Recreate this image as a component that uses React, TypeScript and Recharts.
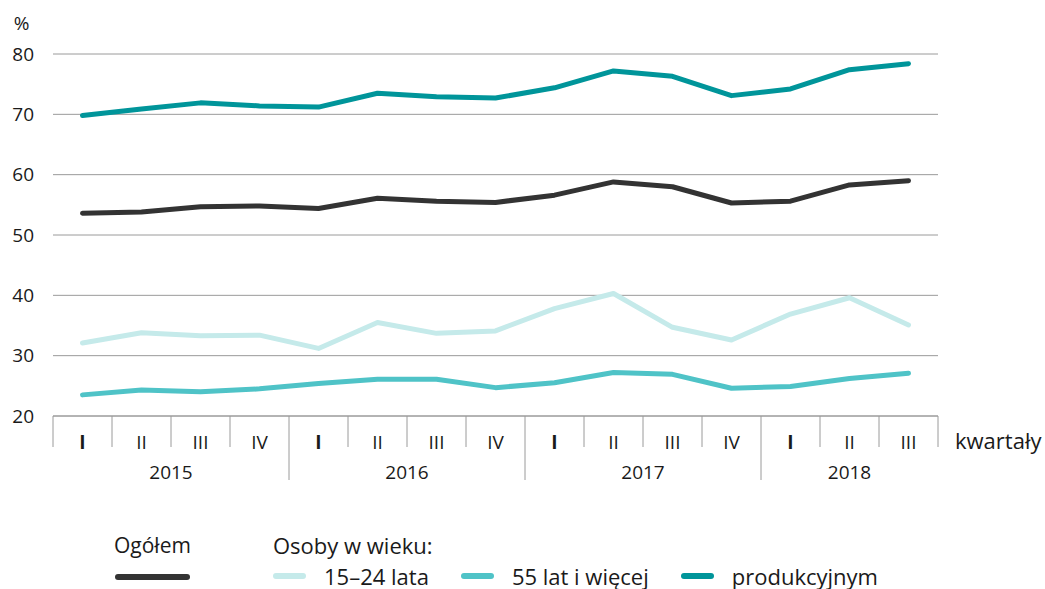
import { LineChart, Line, XAxis, YAxis, CartesianGrid, Legend } from "recharts";

const quarters = ["I", "II", "III", "IV", "I", "II", "III", "IV", "I", "II", "III", "IV", "I", "II", "III"];
const years = ["2015", "2015", "2015", "2015", "2016", "2016", "2016", "2016", "2017", "2017", "2017", "2017", "2018", "2018", "2018"];

const ogolem = [53.6, 53.8, 54.7, 54.8, 54.4, 56.1, 55.6, 55.4, 56.6, 58.8, 58.0, 55.3, 55.6, 58.3, 59.0];
const wiek1524 = [32.1, 33.8, 33.3, 33.4, 31.2, 35.5, 33.7, 34.1, 37.8, 40.3, 34.7, 32.6, 36.9, 39.6, 35.1];
const wiek55plus = [23.5, 24.3, 24.0, 24.5, 25.4, 26.1, 26.1, 24.7, 25.5, 27.2, 26.9, 24.6, 24.9, 26.2, 27.1];
const produkcyjny = [69.8, 70.9, 71.9, 71.4, 71.2, 73.5, 72.9, 72.7, 74.4, 77.2, 76.3, 73.1, 74.2, 77.4, 78.4];

const yTicks = [20, 30, 40, 50, 60, 70, 80];

const data = quarters.map((q, i) => ({
  q,
  year: years[i],
  ogolem: ogolem[i],
  mlodzi: wiek1524[i],
  starsi: wiek55plus[i],
  prod: produkcyjny[i],
}));

const FONT = "'Open Sans', sans-serif";
const TEXT = "#1a1a1a";
const RULE = "#9a9a9a";
// half a quarter's slot; also used as the axis padding so points sit mid-slot
const HALF = 29.5;

function QuarterTick(props: any) {
  const { x, y, payload, index } = props;
  const left = x - HALF;
  const isYearStart = index === 0 || years[index] !== years[index - 1];
  const isLast = index === quarters.length - 1;
  let yearLabel = null;
  if (isYearStart) {
    const n = years.filter((v) => v === years[index]).length;
    yearLabel = (
      <text x={left + n * HALF} y={y + 63} textAnchor="middle" fontSize={19} fill={TEXT} fontFamily={FONT}>
        {years[index]}
      </text>
    );
  }
  return (
    <g>
      <line x1={left} x2={left} y1={y} y2={y + (isYearStart && index > 0 ? 64 : 31)} stroke={RULE} />
      {isLast && <line x1={x + HALF} x2={x + HALF} y1={y} y2={y + 31} stroke={RULE} />}
      <text
        x={x}
        y={y + 33}
        textAnchor="middle"
        fontSize={19}
        fill={TEXT}
        fontFamily={FONT}
        fontWeight={payload.value === "I" ? 700 : 400}
      >
        {payload.value}
      </text>
      {isLast && (
        <text x={x + HALF + 17} y={y + 33} fontSize={22} fill={TEXT} fontFamily={FONT}>
          kwartały
        </text>
      )}
      {yearLabel}
    </g>
  );
}

function renderLegend(props: any) {
  const items = props.payload || [];
  const total = items.find((p: any) => p.dataKey === "ogolem");
  const ages = items.filter((p: any) => p.dataKey !== "ogolem");
  return (
    <div style={{ position: "relative", height: 0, fontFamily: FONT, fontSize: 22, color: TEXT }}>
      <div style={{ position: "absolute", left: 114, top: 532, lineHeight: "26px", fontSize: 21 }}>{total?.value}</div>
      <div style={{ position: "absolute", left: 115, top: 574, width: 75, height: 6, borderRadius: 3, background: total?.color }} />
      <div style={{ position: "absolute", left: 273, top: 532, lineHeight: "26px" }}>Osoby w wieku:</div>
      <div style={{ position: "absolute", left: 273, top: 564, display: "flex", alignItems: "center", whiteSpace: "nowrap", lineHeight: "24px" }}>
        {ages.map((p: any) => (
          <div key={p.dataKey} style={{ display: "flex", alignItems: "center", marginRight: 32 }}>
            <div style={{ width: 33, height: 6, borderRadius: 3, background: p.color }} />
            <span style={{ marginLeft: 18 }}>{p.value}</span>
          </div>
        ))}
      </div>
    </div>
  );
}

export default function App() {
  return (
    <div style={{ position: "absolute", left: 0, top: 0, width: 1045, height: 589, background: "#fff" }}>
      <LineChart width={1045} height={589} data={data} margin={{ top: 54, right: 107, left: 0, bottom: 103 }}>
        <CartesianGrid vertical={false} stroke={RULE} strokeWidth={1} />
        <XAxis
          dataKey="q"
          padding={{ left: HALF, right: HALF }}
          height={70}
          interval={0}
          tickLine={false}
          tickSize={0}
          tickMargin={0}
          axisLine={{ stroke: RULE }}
          tick={<QuarterTick />}
        />
        <YAxis
          width={53}
          domain={[20, 80]}
          ticks={yTicks}
          interval={0}
          axisLine={false}
          tickLine={false}
          tickSize={0}
          tickMargin={19}
          tick={{ fontSize: 19, fill: TEXT, fontFamily: FONT }}
          label={{ value: "%", position: "top", offset: 24, dx: -5, fontSize: 19, fill: TEXT, fontFamily: FONT }}
        />
        <Legend verticalAlign="bottom" wrapperStyle={{ top: 0, left: 0, width: 1045 }} content={renderLegend} />
        <Line dataKey="ogolem" name="Ogółem" stroke="#333333" strokeWidth={5} dot={false} strokeLinecap="round" strokeLinejoin="round" isAnimationActive={false} />
        <Line dataKey="mlodzi" name="15–24 lata" stroke="#c5eaea" strokeWidth={5} dot={false} strokeLinecap="round" strokeLinejoin="round" isAnimationActive={false} />
        <Line dataKey="starsi" name="55 lat i więcej" stroke="#4fc3c7" strokeWidth={5} dot={false} strokeLinecap="round" strokeLinejoin="round" isAnimationActive={false} />
        <Line dataKey="prod" name="produkcyjnym" stroke="#00959a" strokeWidth={5} dot={false} strokeLinecap="round" strokeLinejoin="round" isAnimationActive={false} />
      </LineChart>
    </div>
  );
}
